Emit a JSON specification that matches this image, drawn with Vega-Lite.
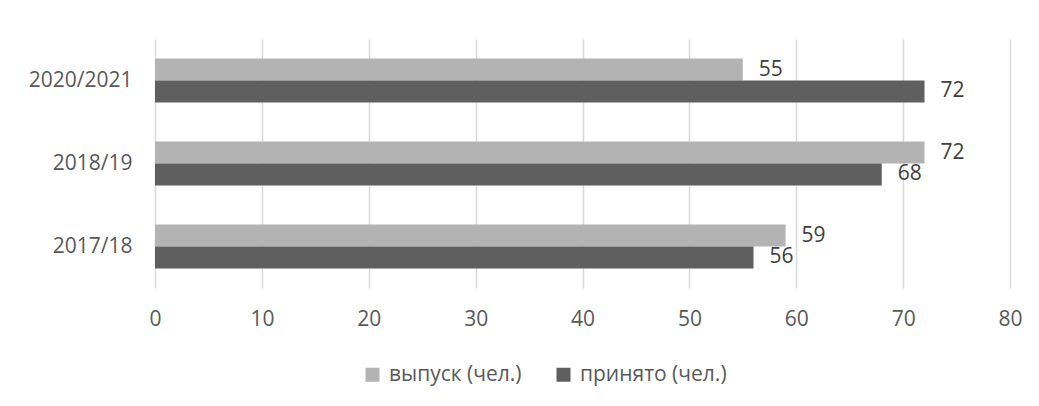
{
  "$schema": "https://vega.github.io/schema/vega-lite/v6.json",
  "autosize": "none",
  "width": 855,
  "height": 249,
  "padding": {"left": 155, "top": 39, "right": 29, "bottom": 118},
  "background": "white",
  "config": {"view": {"stroke": null}, "font": "Open Sans"},
  "data": {"values": [
    {"year": "2020/2021", "series": "выпуск (чел.)", "value": 55},
    {"year": "2020/2021", "series": "принято (чел.)", "value": 72},
    {"year": "2018/19", "series": "выпуск (чел.)", "value": 72},
    {"year": "2018/19", "series": "принято (чел.)", "value": 68},
    {"year": "2017/18", "series": "выпуск (чел.)", "value": 59},
    {"year": "2017/18", "series": "принято (чел.)", "value": 56}
  ]},
  "encoding": {
    "y": {
      "field": "year", "type": "nominal",
      "sort": ["2020/2021", "2018/19", "2017/18"],
      "scale": {"paddingInner": 0.47, "paddingOuter": 0.235},
      "axis": {"title": null, "domain": false, "ticks": false, "grid": false, "labelPadding": 23, "labelFontSize": 21, "labelColor": "#595959"}
    },
    "yOffset": {
      "field": "series", "type": "nominal",
      "sort": ["выпуск (чел.)", "принято (чел.)"],
      "scale": {"paddingInner": 0, "paddingOuter": 0}
    },
    "x": {
      "field": "value", "type": "quantitative",
      "scale": {"domain": [0, 80]},
      "axis": {"title": null, "values": [0, 10, 20, 30, 40, 50, 60, 70, 80], "domain": false, "ticks": false, "labelPadding": 20, "labelFontSize": 21, "labelColor": "#595959", "gridColor": "#d9d9d9", "gridWidth": 1.5, "labelFlush": false}
    }
  },
  "layer": [
    {
      "mark": {"type": "bar"},
      "encoding": {
        "color": {
          "field": "series", "type": "nominal",
          "sort": ["выпуск (чел.)", "принято (чел.)"],
          "scale": {"range": ["#b3b3b3", "#5f5f5f"]},
          "legend": {"orient": "none", "legendX": 207, "legendY": 325, "direction": "horizontal", "title": null, "symbolType": "square", "symbolSize": 196, "symbolStrokeWidth": 0, "labelFontSize": 21, "labelColor": "#595959", "columnPadding": 31, "labelOffset": 6, "padding": 0}
        }
      }
    },
    {
      "mark": {"type": "text", "align": "left", "baseline": "middle", "dx": 16, "fontSize": 21, "color": "#404040"},
      "encoding": {"text": {"field": "value", "type": "quantitative"}}
    }
  ]
}
